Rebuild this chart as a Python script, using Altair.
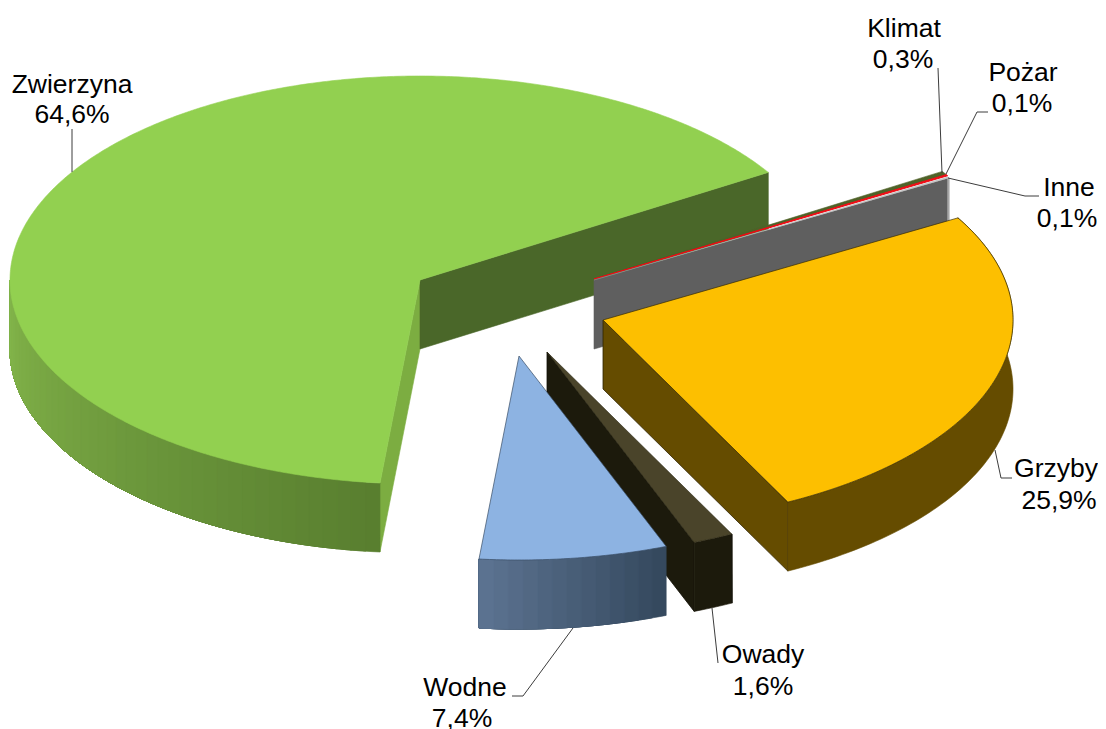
import math
import altair as alt

# ---- data ----
categories = ["Zwierzyna", "Klimat", "Pożar", "Inne", "Grzyby", "Owady", "Wodne"]
shares = [64.6, 0.3, 0.1, 0.1, 25.9, 1.6, 7.4]

# ---- styling of each slice ----
top_colors = ["#92D050", "#4F6228", "#F00A14", "#C4C4C4", "#FDBF00", "#4A442A", "#8DB3E2"]
top_strokes = ["#92D050", "#4F6228", "#F00A14", "#C4C4C4", "#3A2C00", "#2A2712", "#3A4D66"]
top_widths = [0.6, 0.6, 1.0, 0.2, 0.7, 0.6, 0.7]
start_walls = ["#7CAD41", None, None, None, None, None, None]
end_walls = ["#4A6729", None, None, "#5F5F5F", "#654C00", "#1C1A0C", None]
outer_from = ["#587E2F", None, None, "#ABABAB", "#654C00", "#1C1A0C", "#33475C"]
outer_to = ["#84B64B", None, None, "#ABABAB", "#654C00", "#1C1A0C", "#5D7492"]
edge_strokes = [None, None, None, None, "#2E2300", "#121006", None]

# ---- layout of the exploded 3-D pie (reference pixels) ----
apex_x = [420, 594, 594, 594, 603, 547, 519]
apex_y = [280, 279, 279, 280, 320, 352, 356]
RX, RY = 410, 204
DEPTH = 69
FIRST_ANGLE = 185.6

# ---- labels: one row per text line, plus leader lines ----
label_lines = [
    ("Zwierzyna", 72, 93), ("64,6%", 72, 123),
    ("Klimat", 904, 37), ("0,3%", 903, 68),
    ("Pożar", 1023, 81), ("0,1%", 1022, 112),
    ("Inne", 1069, 196), ("0,1%", 1067, 227),
    ("Grzyby", 1056, 477), ("25,9%", 1059, 509),
    ("Owady", 763, 663), ("1,6%", 763, 695),
    ("Wodne", 465, 696), ("7,4%", 462, 727),
]
leaders = [
    [(72, 129), (72, 172)],
    [(938, 68), (942, 173)],
    [(988, 112), (977, 112), (946, 174)],
    [(948, 178), (1025, 196), (1039, 196)],
    [(995, 450), (1001, 478), (1012, 478)],
    [(712, 608), (718, 663)],
    [(573, 628), (523, 696), (512, 696)],
]


def pt(cx, cy, deg, drop=0.0):
    r = math.radians(deg)
    return [cx + RX * math.sin(r), cy - RY * math.cos(r) + drop]


def mix(c1, c2, t):
    a = [int(c1[i:i + 2], 16) for i in (1, 3, 5)]
    b = [int(c2[i:i + 2], 16) for i in (1, 3, 5)]
    return "#%02x%02x%02x" % tuple(round(p + (q - p) * t) for p, q in zip(a, b))


def poly(coords, fill, stroke=None, width=0.6):
    ring = [list(c) for c in coords]
    ring.append(list(coords[0]))
    return {
        "type": "Feature",
        "geometry": {"type": "Polygon", "coordinates": [ring]},
        "properties": {"fill": fill, "stroke": stroke or fill, "sw": width},
    }


def arc(cx, cy, a, b, drop=0.0, step=1.0):
    n = max(1, int(math.ceil((b - a) / step)))
    return [pt(cx, cy, a + (b - a) * i / n, drop) for i in range(n + 1)]


def band(pts):
    low = [[p[0], p[1] + DEPTH] for p in reversed(pts)]
    return pts + low


features = []
angle = FIRST_ANGLE
for i, share in enumerate(shares):
    start = angle
    end = angle + share * 3.6
    angle = end
    cx, cy = apex_x[i], apex_y[i]
    apex = [cx, cy]
    apex_low = [cx, cy + DEPTH]
    edge = edge_strokes[i]
    # cut faces
    if start_walls[i]:
        features.append(poly([apex, pt(cx, cy, start), pt(cx, cy, start, DEPTH), apex_low],
                             start_walls[i]))
    if end_walls[i]:
        features.append(poly([apex, pt(cx, cy, end), pt(cx, cy, end, DEPTH), apex_low],
                             end_walls[i], edge, 0.8 if edge else 0.6))
    # curved outer face: one shape if flat, otherwise overlapping shaded bands
    if outer_from[i]:
        lo, hi = max(start, 90), min(end, 270)
        if lo >= hi:
            lo, hi = start, end
        if outer_from[i] == outer_to[i]:
            features.append(poly(band(arc(cx, cy, lo, hi)), outer_from[i]))
        else:
            n = max(2, int((hi - lo) / 2))
            # painted from the far end so each band overlaps its neighbour
            for k in range(n):
                t = (k + 0.5) / n
                features.append(poly(band(arc(cx, cy, lo + (hi - lo) * k / n, hi)),
                                     mix(outer_from[i], outer_to[i], t)))
        if edge:
            p = pt(cx, cy, lo)
            features.append(poly([p, [p[0], p[1] + DEPTH], [p[0] + 0.3, p[1] + DEPTH]],
                                 edge, edge, 0.8))
    # top face
    features.append(poly([apex] + arc(cx, cy, start, end, step=0.5),
                         top_colors[i], top_strokes[i], top_widths[i]))

line_features = [
    {"type": "Feature",
     "geometry": {"type": "LineString", "coordinates": [list(p) for p in path]},
     "properties": {}}
    for path in leaders
]

proj = dict(type="identity", scale=1, translate=[-8, -8])

shapes = (
    alt.Chart(alt.InlineData(values={"type": "FeatureCollection", "features": features},
                             format=alt.DataFormat(property="features")))
    .mark_geoshape()
    .encode(
        fill=alt.Fill("properties.fill:N", scale=None, legend=None),
        stroke=alt.Stroke("properties.stroke:N", scale=None, legend=None),
        strokeWidth=alt.StrokeWidth("properties.sw:Q", scale=None, legend=None),
    )
    .project(**proj)
)

lines = (
    alt.Chart(alt.InlineData(values={"type": "FeatureCollection", "features": line_features},
                             format=alt.DataFormat(property="features")))
    .mark_geoshape(filled=False, stroke="#3c3c3c", strokeWidth=1)
    .project(**proj)
)

texts = (
    alt.Chart(alt.Data(values=[{"label": t, "lon": x, "lat": y} for t, x, y in label_lines]))
    .mark_text(font="Liberation Sans", fontSize=26.5, color="#000000",
               align="center", baseline="alphabetic")
    .encode(longitude="lon:Q", latitude="lat:Q", text="label:N")
    .project(**proj)
)

chart = (
    alt.layer(shapes, lines, texts)
    .properties(width=1090, height=721, padding=0, autosize=alt.AutoSizeParams(type="none"),
                background="#FFFFFF")
    .configure_view(stroke=None)
)

chart.save("out.html", embed_options={"renderer": "svg", "actions": False})
